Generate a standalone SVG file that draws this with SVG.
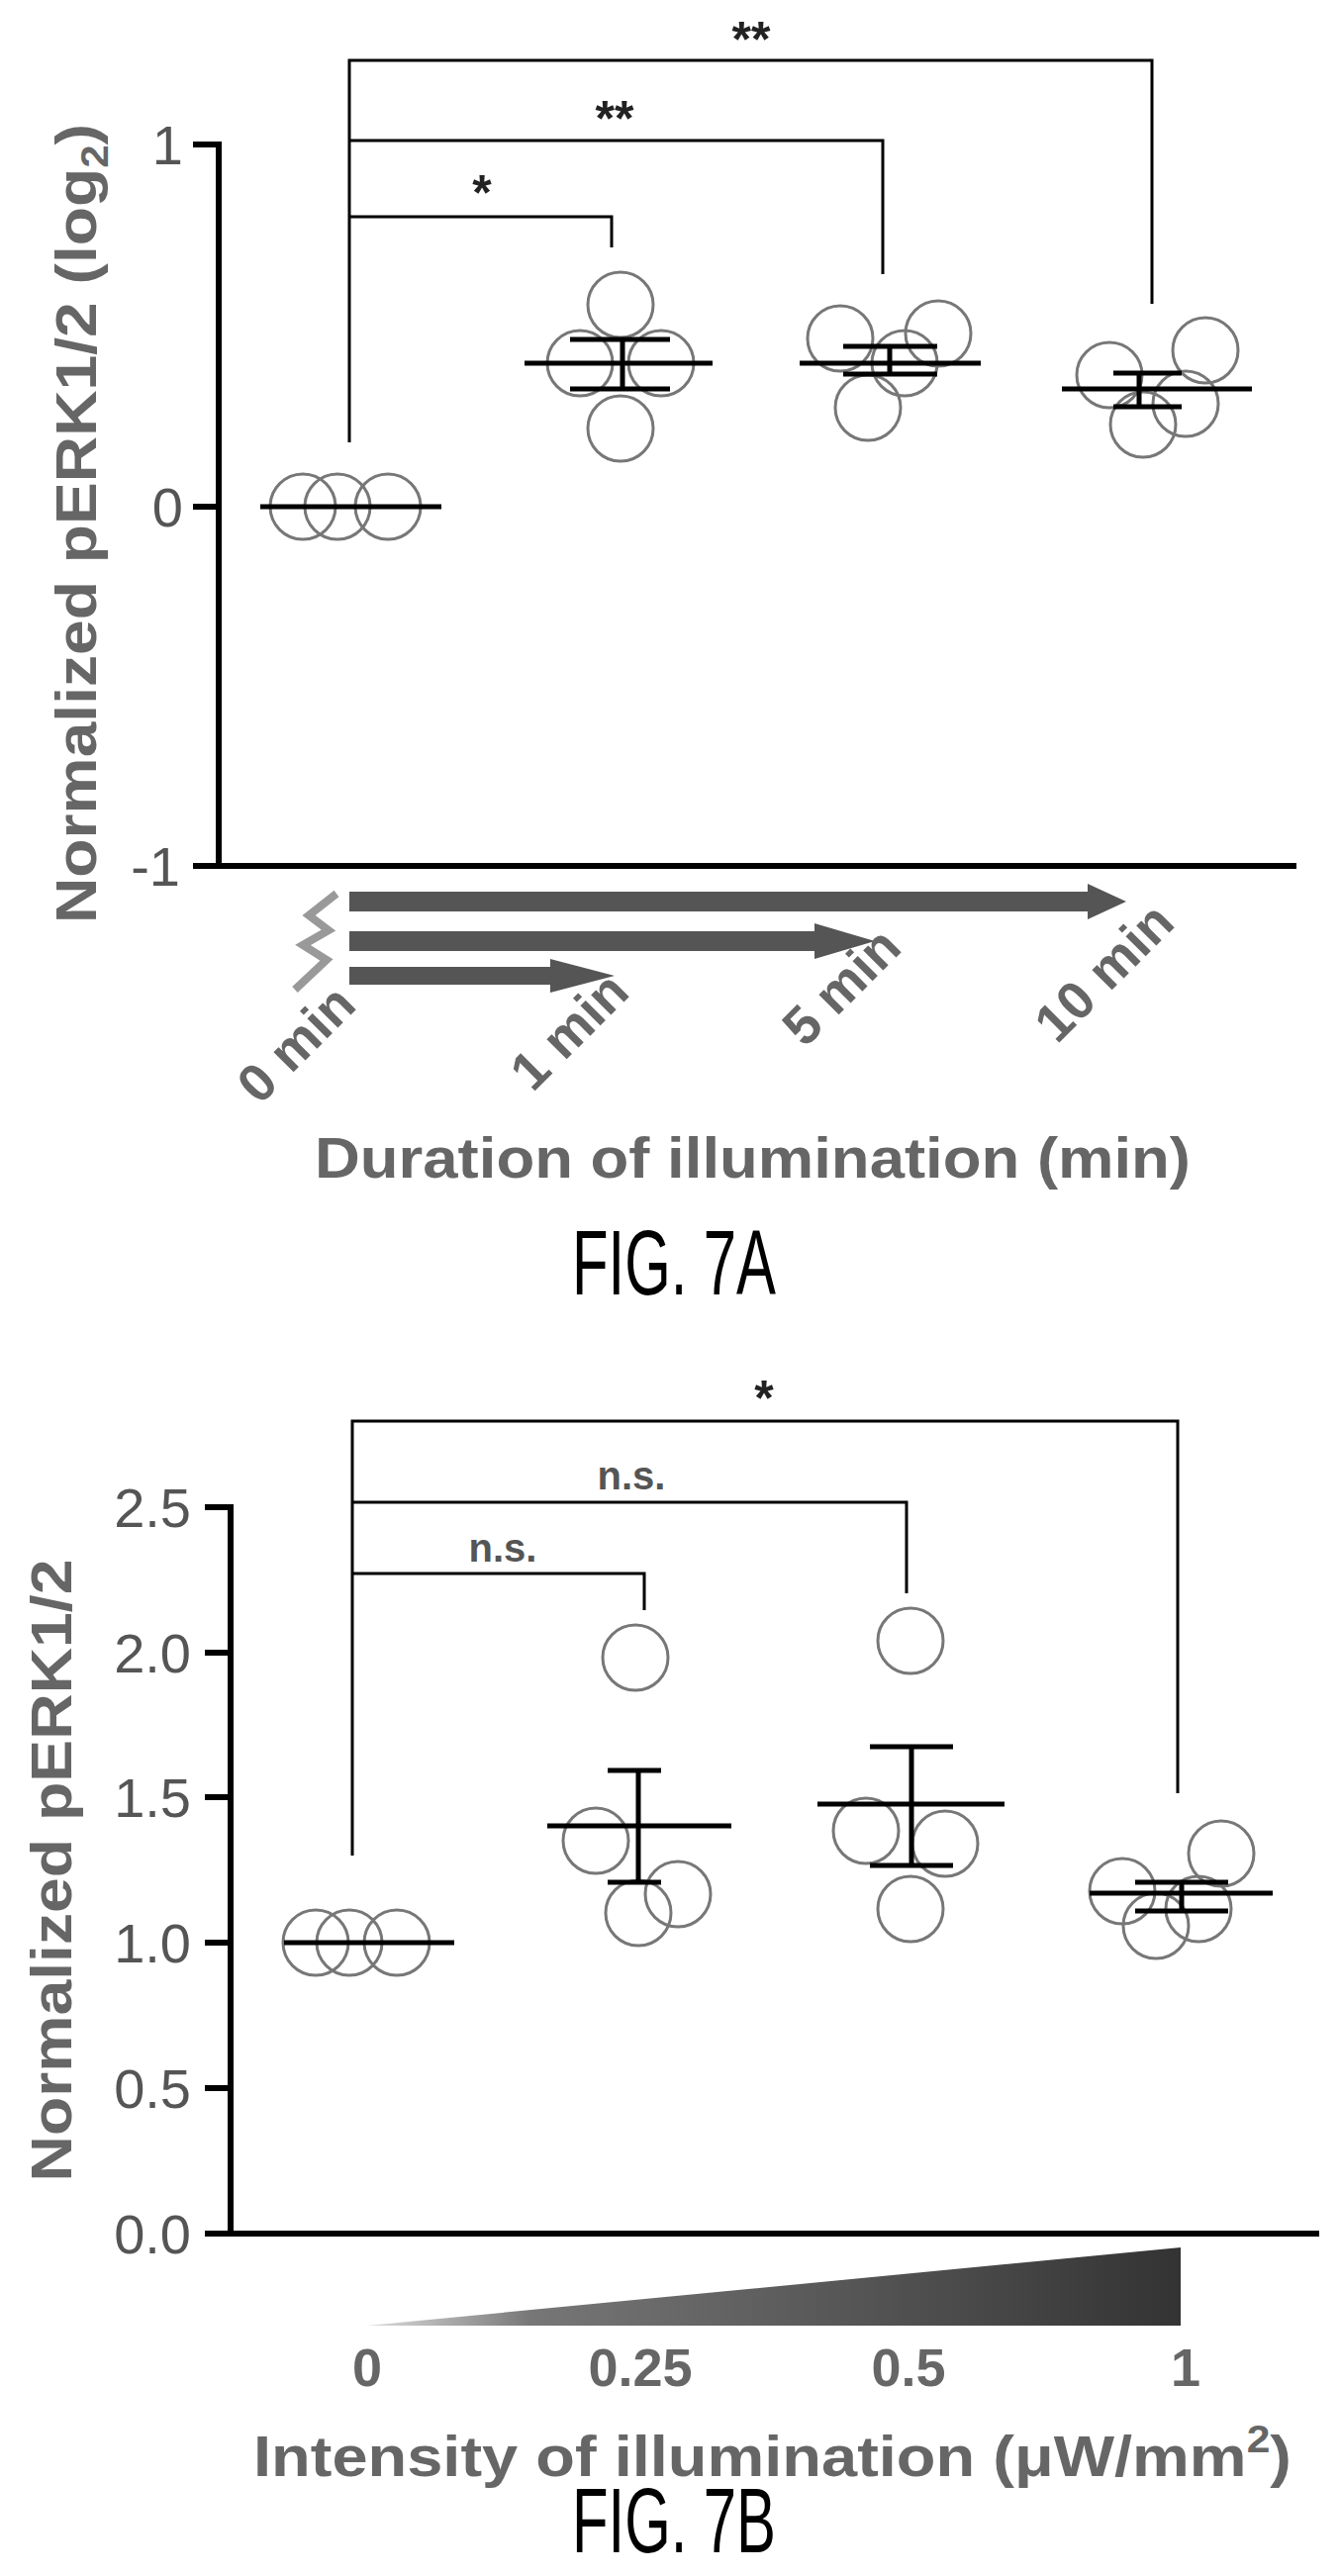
<svg xmlns="http://www.w3.org/2000/svg" width="1354" height="2603" viewBox="0 0 1354 2603">
<style>
.ax{stroke:#000;stroke-width:6;fill:none}
.br{stroke:#000;stroke-width:3;fill:none}
.mn{stroke:#000;stroke-width:5;fill:none}
.pt{stroke:#777;stroke-width:3;fill:none}
.tl{font-family:"Liberation Sans",Arial,sans-serif;font-size:56px;fill:#555;text-anchor:end}
.lb{font-family:"Liberation Sans",Arial,sans-serif;font-weight:bold;fill:#666}
.st{font-family:"Liberation Sans",Arial,sans-serif;font-weight:bold;font-size:50px;fill:#222;text-anchor:middle}
.ns{font-family:"Liberation Sans",Arial,sans-serif;font-weight:bold;font-size:40px;fill:#555;text-anchor:middle}
.fig{font-family:"Liberation Sans Narrow","Liberation Sans",Arial,sans-serif;font-size:92px;fill:#000;text-anchor:middle}
.ar{fill:#555}
</style>
<defs>
<linearGradient id="wg" x1="0" y1="0" x2="1" y2="0"><stop offset="0" stop-color="#ddd"/><stop offset="0.2" stop-color="#777"/><stop offset="1" stop-color="#333"/></linearGradient>
</defs>
<!-- FIG 7A -->
<g id="axesA">
<path class="ax" d="M221,143V875M195,875H1310M195,146H221M195,512H221"/>
<text class="tl" x="185" y="166">1</text>
<text class="tl" x="185" y="532">0</text>
<text class="tl" x="182" y="895">-1</text>
<text class="lb" font-size="58" text-anchor="middle" textLength="808" lengthAdjust="spacingAndGlyphs" transform="translate(97,529) rotate(-90)">Normalized pERK1/2 (log<tspan font-size="38" dy="12">2</tspan><tspan dy="-12">)</tspan></text>
</g>
<g id="dataA">
<g class="pt"><circle cx="306" cy="512" r="33"/><circle cx="341" cy="512" r="33"/><circle cx="392" cy="512" r="33"/></g>
<path class="mn" d="M263,512H446"/>
<g class="pt"><circle cx="627" cy="308" r="33"/><circle cx="586" cy="367" r="33"/><circle cx="668" cy="367" r="33"/><circle cx="627" cy="433" r="33"/></g>
<path class="mn" d="M530,367H720M629,343V393M576,343H677M576,393H677"/>
<g class="pt"><circle cx="849" cy="342" r="33"/><circle cx="948" cy="337" r="33"/><circle cx="877" cy="412" r="33"/><circle cx="914" cy="367" r="33"/></g>
<path class="mn" d="M808,367H991M899,350V378M852,350H947M852,378H947"/>
<g class="pt"><circle cx="1121" cy="379" r="33"/><circle cx="1218" cy="354" r="33"/><circle cx="1155" cy="429" r="33"/><circle cx="1198" cy="408" r="33"/></g>
<path class="mn" d="M1073,393H1265M1151,377V411M1125,377H1194M1125,411H1194"/>
</g>
<g id="bracketsA">
<path class="br" d="M353,447V61H1164V307M353,142H892V277M353,219H618V250"/>
<text class="st" x="487" y="212">*</text>
<text class="st" x="621" y="137">**</text>
<text class="st" x="759" y="57">**</text>
</g>
<g id="arrowsA">
<path class="ar" d="M353,901H1099V893L1138,911L1099,929V921H353Z"/>
<path class="ar" d="M353,941H823V933L884,951L823,969V961H353Z"/>
<path class="ar" d="M353,977H556V969L621,986L556,1003V995H353Z"/>
<polyline points="340,903 312,925 332,940 306,955 330,970 298,1000" fill="none" stroke="#999" stroke-width="8"/>
<g class="lb" font-size="54" text-anchor="end" fill="#666">
<text transform="translate(362,1018) rotate(-45)">0 min</text>
<text transform="translate(638,1005) rotate(-45)">1 min</text>
<text transform="translate(913,960) rotate(-45)">5 min</text>
<text transform="translate(1189,935) rotate(-45)">10 min</text>
</g>
<text class="lb" font-size="58" x="318" y="1190" textLength="885" lengthAdjust="spacingAndGlyphs">Duration of illumination (min)</text>
<text class="fig" x="681" y="1308" textLength="206" lengthAdjust="spacingAndGlyphs">FIG. 7A</text>
</g>
<!-- FIG 7B -->
<g id="axesB">
<path class="ax" d="M233,1520V2257M207,2257H1333M207,1523H233M207,1670H233M207,1816H233M207,1963H233M207,2110H233"/>
<text class="tl" x="193" y="1543">2.5</text>
<text class="tl" x="193" y="1690">2.0</text>
<text class="tl" x="193" y="1836">1.5</text>
<text class="tl" x="193" y="1983">1.0</text>
<text class="tl" x="193" y="2130">0.5</text>
<text class="tl" x="193" y="2277">0.0</text>
<text class="lb" font-size="58" text-anchor="middle" textLength="629" lengthAdjust="spacingAndGlyphs" transform="translate(72,1890) rotate(-90)">Normalized pERK1/2</text>
</g>
<g id="dataB">
<g class="pt"><circle cx="319" cy="1963" r="33"/><circle cx="353" cy="1963" r="33"/><circle cx="401" cy="1963" r="33"/></g>
<path class="mn" d="M287,1963H459"/>
<g class="pt"><circle cx="642" cy="1675" r="33"/><circle cx="602" cy="1860" r="33"/><circle cx="685" cy="1914" r="33"/><circle cx="645" cy="1933" r="33"/></g>
<path class="mn" d="M553,1845H739M645,1789V1902M614,1789H668M614,1902H668"/>
<g class="pt"><circle cx="920" cy="1658" r="33"/><circle cx="875" cy="1850" r="33"/><circle cx="955" cy="1863" r="33"/><circle cx="920" cy="1929" r="33"/></g>
<path class="mn" d="M826,1823H1015M921,1765V1885M879,1765H963M879,1885H963"/>
<g class="pt"><circle cx="1134" cy="1911" r="33"/><circle cx="1234" cy="1873" r="33"/><circle cx="1168" cy="1946" r="33"/><circle cx="1211" cy="1929" r="33"/></g>
<path class="mn" d="M1101,1913H1286M1194,1902V1931M1147,1902H1241M1147,1931H1241"/>
</g>
<g id="bracketsB">
<path class="br" d="M356,1875V1436H1190V1812M356,1518H916V1610M356,1590H651V1627"/>
<text class="ns" x="508" y="1578">n.s.</text>
<text class="ns" x="638" y="1505">n.s.</text>
<text class="st" x="772" y="1430">*</text>
</g>
<g id="wedgeB">
<polygon points="371,2350 1193,2271 1193,2350" fill="url(#wg)"/>
<g class="lb" font-size="54" font-weight="normal" text-anchor="middle" fill="#666">
<text x="371" y="2411">0</text>
<text x="647" y="2411">0.25</text>
<text x="918" y="2411">0.5</text>
<text x="1198" y="2411">1</text>
</g>
<text class="lb" font-size="58" x="256" y="2502" textLength="1049" lengthAdjust="spacingAndGlyphs">Intensity of illumination (μW/mm<tspan font-size="38" dy="-24">2</tspan><tspan dy="24">)</tspan></text>
<text class="fig" x="681" y="2579" textLength="206" lengthAdjust="spacingAndGlyphs">FIG. 7B</text>
</g>
</svg>
